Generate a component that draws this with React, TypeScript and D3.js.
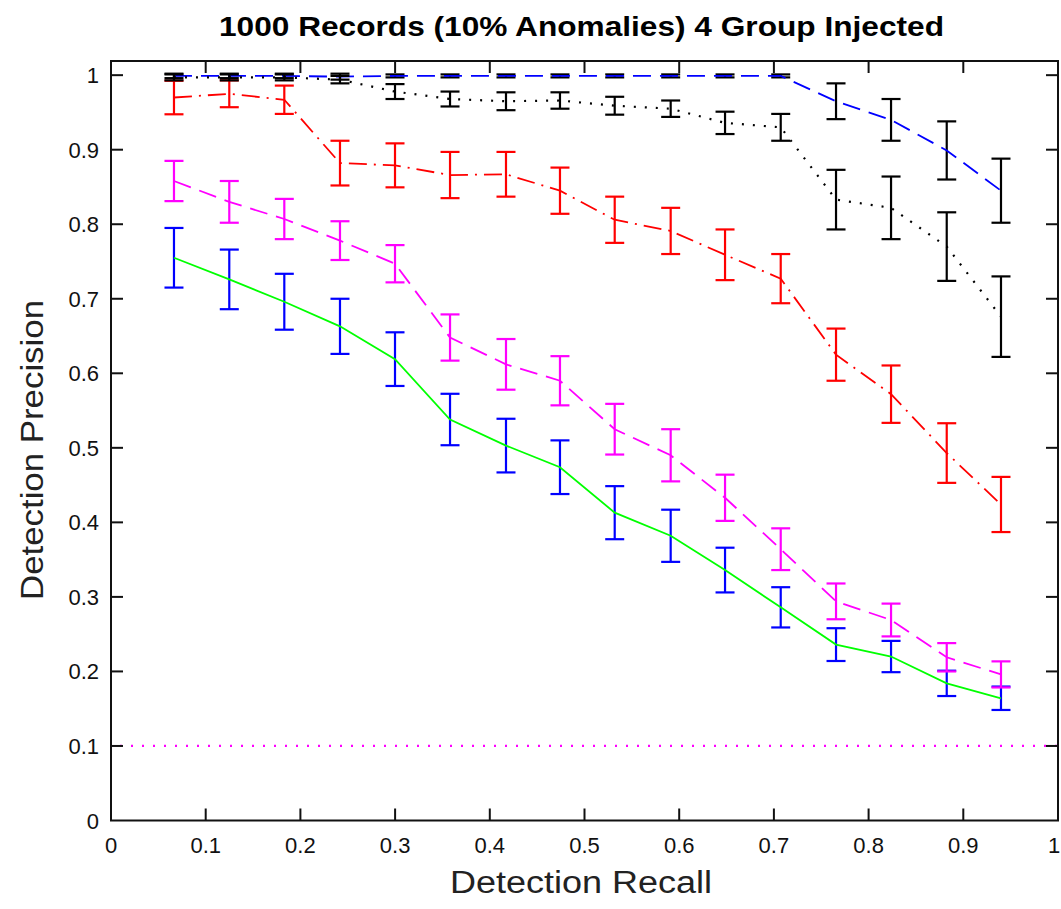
import React from "react";
import * as d3 from "d3";

const title = "1000 Records (10% Anomalies) 4 Group Injected";
const xLabel = "Detection Recall";
const yLabel = "Detection Precision";

const recall = [0.0665, 0.1249, 0.183, 0.2418, 0.2999, 0.358, 0.4171, 0.4741, 0.5319, 0.591, 0.6484, 0.7072, 0.7656, 0.8237, 0.8825, 0.9398];

const blueDashMean = [0.999, 0.999, 0.999, 0.998, 0.999, 0.999, 0.999, 0.999, 0.999, 0.999, 0.999, 0.999, 0.965, 0.94, 0.899, 0.845];
const blueDashErr = [0.003, 0.003, 0.003, 0.004, 0.002, 0.002, 0.002, 0.002, 0.002, 0.002, 0.002, 0.002, 0.024, 0.028, 0.039, 0.043];

const blackDotMean = [0.997, 0.997, 0.997, 0.994, 0.978, 0.968, 0.965, 0.966, 0.959, 0.955, 0.936, 0.93, 0.833, 0.822, 0.77, 0.676];
const blackDotErr = [0.004, 0.004, 0.004, 0.005, 0.01, 0.01, 0.012, 0.011, 0.012, 0.011, 0.015, 0.018, 0.04, 0.042, 0.046, 0.054];

const redMean = [0.97, 0.975, 0.967, 0.882, 0.879, 0.866, 0.867, 0.845, 0.806, 0.791, 0.759, 0.727, 0.625, 0.572, 0.493, 0.424];
const redErr = [0.0225, 0.018, 0.019, 0.03, 0.0295, 0.031, 0.03, 0.031, 0.031, 0.031, 0.034, 0.033, 0.035, 0.0385, 0.04, 0.037];

const magentaMean = [0.858, 0.83, 0.807, 0.778, 0.747, 0.648, 0.612, 0.59, 0.525, 0.49, 0.433, 0.364, 0.294, 0.269, 0.219, 0.196];
const magentaErr = [0.027, 0.028, 0.027, 0.026, 0.025, 0.031, 0.034, 0.033, 0.034, 0.035, 0.031, 0.028, 0.024, 0.022, 0.019, 0.0175];

const greenMean = [0.755, 0.726, 0.696, 0.663, 0.619, 0.538, 0.503, 0.474, 0.413, 0.382, 0.336, 0.286, 0.236, 0.22, 0.184, 0.164];
const greenErr = [0.04, 0.04, 0.0375, 0.037, 0.036, 0.0345, 0.036, 0.036, 0.0356, 0.035, 0.03, 0.027, 0.022, 0.021, 0.017, 0.0157];

const baselineValue = 0.1;

const xTicks = [0, 0.1, 0.2, 0.3, 0.4, 0.5, 0.6, 0.7, 0.8, 0.9, 1];
const yTicks = [0, 0.1, 0.2, 0.3, 0.4, 0.5, 0.6, 0.7, 0.8, 0.9, 1];

const W = 1061;
const H = 909;
const left = 111;
const right = 1058;
const top = 61;
const bottom = 820.5;

const x = d3.scaleLinear().domain([0, 1]).range([left, right]);
const y = d3.scaleLinear().domain([0, 1.019]).range([bottom, top]);

type Series = {
  mean: number[];
  err: number[];
  lineColor: string;
  barColor: string;
  dash: string | undefined;
};

const series: Series[] = [
  { mean: greenMean, err: greenErr, lineColor: "#00ff00", barColor: "#0000ff", dash: undefined },
  { mean: magentaMean, err: magentaErr, lineColor: "#ff00ff", barColor: "#ff00ff", dash: "18,9" },
  { mean: redMean, err: redErr, lineColor: "#ff0000", barColor: "#ff0000", dash: "18,7,2,7" },
  { mean: blueDashMean, err: blueDashErr, lineColor: "#0000ff", barColor: "#000000", dash: "18,9" },
  { mean: blackDotMean, err: blackDotErr, lineColor: "#000000", barColor: "#000000", dash: "2,9" },
];

const line = d3
  .line<number>()
  .x((_, i) => x(recall[i]))
  .y((d) => y(d));

const capHalf = 9.5;
const font = "'Liberation Sans', Arial, Helvetica, sans-serif";

export default function App() {
  return (
    <div style={{ position: "absolute", left: 0, top: 0 }}>
      <svg width={W} height={H} style={{ display: "block", background: "#fff" }}>
        <rect x={0} y={0} width={W} height={H} fill="#fff" />
        <text
          x={(left + right) / 2 - 3}
          y={36}
          textAnchor="middle"
          fontFamily={font}
          fontWeight="bold"
          fontSize={28}
          textLength={725}
          lengthAdjust="spacingAndGlyphs"
        >
          {title}
        </text>

        <line
          x1={x(0)}
          x2={x(1)}
          y1={y(baselineValue)}
          y2={y(baselineValue)}
          stroke="#ff00ff"
          strokeWidth={2.2}
          strokeDasharray="2,9"
          strokeDashoffset={-9}
        />

        {series.map((s, si) => (
          <g key={si}>
            {s.mean.map((m, i) => {
              const cx = x(recall[i]);
              const y1 = y(m + s.err[i]);
              const y2 = y(m - s.err[i]);
              return (
                <g key={i} stroke={s.barColor} strokeWidth={2.2}>
                  <line x1={cx} x2={cx} y1={y1} y2={y2} />
                  <line x1={cx - capHalf} x2={cx + capHalf} y1={y1} y2={y1} />
                  <line x1={cx - capHalf} x2={cx + capHalf} y1={y2} y2={y2} />
                </g>
              );
            })}
            <path
              d={line(s.mean) || ""}
              fill="none"
              stroke={s.lineColor}
              strokeWidth={s.dash === "2,9" ? 2.2 : 1.8}
              strokeDasharray={s.dash}
            />
          </g>
        ))}

        <rect x={left} y={top} width={right - left} height={bottom - top} fill="none" stroke="#111" strokeWidth={2} />

        {xTicks.map((t, i) => (
          <g key={"xt" + i}>
            {i > 0 && i < xTicks.length - 1 && (
              <>
                <line x1={x(t)} x2={x(t)} y1={bottom} y2={bottom - 12} stroke="#111" strokeWidth={2} />
                <line x1={x(t)} x2={x(t)} y1={top} y2={top + 12} stroke="#111" strokeWidth={2} />
              </>
            )}
            <text
              x={i === xTicks.length - 1 ? x(t) - 4 : x(t)}
              y={853}
              textAnchor="middle"
              fontFamily={font}
              fontSize={22}
              fill="#111"
            >
              {String(t)}
            </text>
          </g>
        ))}

        {yTicks.map((t, i) => (
          <g key={"yt" + i}>
            {i > 0 && (
              <>
                <line x1={left} x2={left + 12} y1={y(t)} y2={y(t)} stroke="#111" strokeWidth={2} />
                <line x1={right} x2={right - 12} y1={y(t)} y2={y(t)} stroke="#111" strokeWidth={2} />
              </>
            )}
            <text x={99} y={y(t) + 8} textAnchor="end" fontFamily={font} fontSize={22} fill="#111">
              {String(t)}
            </text>
          </g>
        ))}

        <text
          x={581}
          y={893}
          textAnchor="middle"
          fontFamily={font}
          fontSize={31}
          fill="#222"
          textLength={262}
          lengthAdjust="spacingAndGlyphs"
        >
          {xLabel}
        </text>
        <text
          transform={`translate(43, 450) rotate(-90)`}
          textAnchor="middle"
          fontFamily={font}
          fontSize={31}
          fill="#222"
          textLength={300}
          lengthAdjust="spacingAndGlyphs"
        >
          {yLabel}
        </text>
      </svg>
    </div>
  );
}
